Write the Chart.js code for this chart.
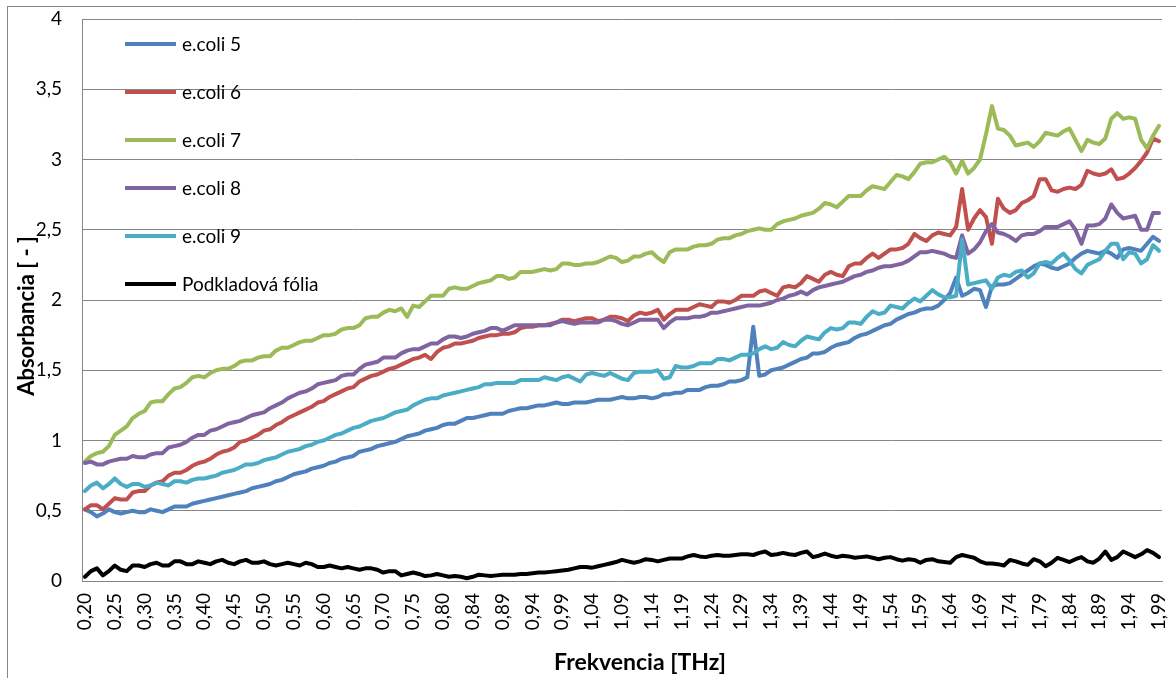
<!DOCTYPE html>
<html><head><meta charset="utf-8">
<script src="https://cdn.jsdelivr.net/npm/chart.js@4"></script>
<style>html,body{margin:0;padding:0;background:#fff;}#wrap{width:1176px;height:678px;}</style>
</head><body><div id="wrap"><canvas id="c" width="1176" height="678"></canvas></div>
<script>
const tickLabels = ['0,20','0,25','0,30','0,35','0,40','0,45','0,50','0,55','0,60','0,65','0,70','0,75','0,80','0,84','0,89','0,94','0,99','1,04','1,09','1,14','1,19','1,24','1,29','1,34','1,39','1,44','1,49','1,54','1,59','1,64','1,69','1,74','1,79','1,84','1,89','1,94','1,99'];

const ecoli5 = [0.51,0.49,0.46,0.48,0.51,0.49,0.48,0.49,0.50,0.49,
 0.49,0.51,0.50,0.49,0.51,0.53,0.53,0.53,0.55,0.56,
 0.57,0.58,0.59,0.60,0.61,0.62,0.63,0.64,0.66,0.67,
 0.68,0.69,0.71,0.72,0.74,0.76,0.77,0.78,0.80,0.81,
 0.82,0.84,0.85,0.87,0.88,0.89,0.92,0.93,0.94,0.96,
 0.97,0.98,0.99,1.01,1.03,1.04,1.05,1.07,1.08,1.09,
 1.11,1.12,1.12,1.14,1.16,1.16,1.17,1.18,1.19,1.19,
 1.19,1.21,1.22,1.23,1.23,1.24,1.25,1.25,1.26,1.27,
 1.26,1.26,1.27,1.27,1.27,1.28,1.29,1.29,1.29,1.30,
 1.31,1.30,1.30,1.31,1.31,1.30,1.31,1.33,1.33,1.34,
 1.34,1.36,1.36,1.36,1.38,1.39,1.39,1.40,1.42,1.42,
 1.43,1.45,1.81,1.46,1.47,1.50,1.51,1.52,1.54,1.56,
 1.58,1.59,1.62,1.62,1.63,1.66,1.68,1.69,1.70,1.73,
 1.75,1.76,1.78,1.80,1.82,1.83,1.86,1.88,1.90,1.91,
 1.93,1.94,1.94,1.96,2.00,2.05,2.16,2.03,2.05,2.08,
 2.07,1.95,2.10,2.11,2.11,2.12,2.15,2.18,2.21,2.24,
 2.26,2.25,2.23,2.22,2.24,2.26,2.30,2.33,2.35,2.34,
 2.33,2.35,2.33,2.30,2.36,2.37,2.36,2.35,2.40,2.45,
 2.42];

const ecoli6 = [0.51,0.54,0.54,0.51,0.55,0.59,0.58,0.58,0.63,0.64,
 0.64,0.68,0.70,0.71,0.75,0.77,0.77,0.79,0.82,0.84,
 0.85,0.87,0.90,0.92,0.93,0.95,0.99,1.00,1.02,1.04,
 1.07,1.08,1.11,1.13,1.16,1.18,1.20,1.22,1.24,1.27,
 1.28,1.31,1.33,1.35,1.37,1.38,1.42,1.44,1.46,1.47,
 1.49,1.51,1.52,1.54,1.56,1.58,1.59,1.61,1.58,1.63,
 1.66,1.67,1.69,1.69,1.70,1.71,1.73,1.74,1.75,1.75,
 1.76,1.76,1.77,1.80,1.81,1.81,1.82,1.82,1.83,1.84,
 1.86,1.86,1.85,1.86,1.87,1.87,1.85,1.86,1.88,1.88,
 1.87,1.85,1.89,1.91,1.90,1.91,1.93,1.86,1.90,1.93,
 1.93,1.93,1.95,1.97,1.96,1.95,1.99,1.99,1.98,2.00,
 2.03,2.03,2.03,2.06,2.07,2.05,2.03,2.09,2.10,2.09,
 2.12,2.17,2.15,2.13,2.18,2.20,2.18,2.17,2.24,2.26,
 2.26,2.30,2.33,2.30,2.33,2.36,2.36,2.37,2.40,2.47,
 2.44,2.42,2.46,2.48,2.47,2.46,2.52,2.79,2.50,2.58,
 2.64,2.59,2.40,2.72,2.65,2.62,2.64,2.69,2.71,2.74,
 2.86,2.86,2.78,2.77,2.79,2.80,2.79,2.82,2.92,2.90,
 2.89,2.90,2.93,2.86,2.87,2.90,2.94,2.99,3.05,3.15,
 3.13];

const ecoli7 = [0.85,0.89,0.91,0.92,0.96,1.04,1.07,1.10,1.16,1.19,
 1.21,1.27,1.28,1.28,1.33,1.37,1.38,1.41,1.45,1.46,
 1.45,1.48,1.50,1.51,1.51,1.53,1.56,1.57,1.57,1.59,
 1.60,1.60,1.64,1.66,1.66,1.68,1.70,1.71,1.71,1.73,
 1.75,1.75,1.76,1.79,1.80,1.80,1.82,1.87,1.88,1.88,
 1.91,1.93,1.92,1.94,1.88,1.96,1.95,1.99,2.03,2.03,
 2.03,2.08,2.09,2.08,2.08,2.10,2.12,2.13,2.14,2.17,
 2.17,2.15,2.16,2.20,2.20,2.20,2.21,2.22,2.21,2.22,
 2.26,2.26,2.25,2.25,2.26,2.26,2.27,2.29,2.31,2.30,
 2.27,2.28,2.31,2.31,2.33,2.34,2.30,2.27,2.34,2.36,
 2.36,2.36,2.38,2.39,2.39,2.40,2.43,2.44,2.44,2.46,
 2.47,2.49,2.50,2.51,2.50,2.50,2.54,2.56,2.57,2.58,
 2.60,2.61,2.62,2.65,2.69,2.68,2.66,2.70,2.74,2.74,
 2.74,2.78,2.81,2.80,2.79,2.84,2.89,2.88,2.86,2.91,
 2.97,2.98,2.98,3.00,3.02,2.98,2.90,2.99,2.90,2.94,
 3.00,3.18,3.38,3.22,3.21,3.17,3.10,3.11,3.12,3.09,
 3.13,3.19,3.18,3.17,3.20,3.22,3.14,3.06,3.14,3.12,
 3.11,3.15,3.29,3.33,3.29,3.30,3.29,3.14,3.08,3.17,
 3.24];

const ecoli8 = [0.84,0.85,0.83,0.83,0.85,0.86,0.87,0.87,0.89,0.88,
 0.88,0.90,0.91,0.91,0.95,0.96,0.97,0.99,1.02,1.04,
 1.04,1.07,1.08,1.10,1.12,1.13,1.14,1.16,1.18,1.19,
 1.20,1.23,1.25,1.27,1.30,1.32,1.34,1.35,1.37,1.40,
 1.41,1.42,1.43,1.46,1.47,1.47,1.51,1.54,1.55,1.56,
 1.59,1.59,1.59,1.62,1.64,1.65,1.65,1.67,1.69,1.69,
 1.72,1.74,1.74,1.73,1.74,1.76,1.77,1.78,1.80,1.80,
 1.78,1.80,1.82,1.82,1.82,1.82,1.82,1.82,1.82,1.84,
 1.85,1.84,1.83,1.84,1.84,1.84,1.84,1.86,1.86,1.85,
 1.83,1.82,1.84,1.86,1.86,1.86,1.86,1.80,1.84,1.87,
 1.87,1.87,1.88,1.88,1.89,1.91,1.91,1.92,1.93,1.94,
 1.95,1.96,1.96,1.96,1.97,1.98,2.00,2.01,2.03,2.04,
 2.06,2.04,2.07,2.09,2.10,2.11,2.12,2.13,2.15,2.17,
 2.18,2.20,2.21,2.23,2.24,2.24,2.25,2.26,2.28,2.31,
 2.34,2.34,2.35,2.34,2.33,2.31,2.30,2.46,2.33,2.36,
 2.41,2.49,2.54,2.48,2.47,2.45,2.42,2.46,2.47,2.47,
 2.49,2.52,2.52,2.52,2.54,2.56,2.50,2.40,2.53,2.53,
 2.54,2.58,2.68,2.62,2.58,2.59,2.60,2.50,2.50,2.62,
 2.62];

const ecoli9 = [0.64,0.68,0.70,0.66,0.69,0.73,0.69,0.67,0.69,0.69,
 0.67,0.68,0.70,0.69,0.68,0.71,0.71,0.70,0.72,0.73,
 0.73,0.74,0.75,0.77,0.78,0.79,0.81,0.83,0.83,0.84,
 0.86,0.87,0.88,0.90,0.92,0.93,0.94,0.96,0.97,0.99,
 1.00,1.02,1.04,1.05,1.07,1.09,1.10,1.12,1.14,1.15,
 1.16,1.18,1.20,1.21,1.22,1.25,1.27,1.29,1.30,1.30,
 1.32,1.33,1.34,1.35,1.36,1.37,1.38,1.40,1.40,1.41,
 1.41,1.41,1.41,1.43,1.43,1.43,1.43,1.45,1.44,1.43,
 1.45,1.46,1.44,1.42,1.47,1.48,1.47,1.46,1.48,1.46,
 1.44,1.43,1.48,1.49,1.49,1.49,1.50,1.44,1.45,1.53,
 1.52,1.52,1.53,1.55,1.55,1.55,1.58,1.58,1.57,1.59,
 1.61,1.61,1.62,1.65,1.67,1.65,1.66,1.70,1.68,1.67,
 1.71,1.74,1.73,1.72,1.77,1.80,1.79,1.80,1.84,1.84,
 1.83,1.88,1.92,1.90,1.91,1.96,1.95,1.94,1.98,2.01,
 1.99,2.03,2.07,2.04,2.02,2.02,2.03,2.43,2.11,2.12,
 2.13,2.14,2.08,2.16,2.18,2.17,2.20,2.21,2.16,2.19,
 2.26,2.27,2.26,2.30,2.33,2.28,2.22,2.19,2.25,2.27,
 2.29,2.35,2.40,2.40,2.29,2.34,2.33,2.26,2.29,2.39,
 2.35];

const podkladovaFolia = [0.03,0.07,0.09,0.04,0.07,0.11,0.08,0.07,0.11,0.11,
 0.10,0.12,0.13,0.11,0.11,0.14,0.14,0.12,0.12,0.14,
 0.13,0.12,0.14,0.15,0.13,0.12,0.14,0.15,0.13,0.13,
 0.14,0.12,0.11,0.12,0.13,0.12,0.11,0.13,0.12,0.10,
 0.10,0.11,0.10,0.09,0.10,0.09,0.08,0.09,0.09,0.08,
 0.06,0.07,0.07,0.04,0.05,0.06,0.05,0.035,0.04,0.05,
 0.04,0.03,0.035,0.03,0.02,0.03,0.045,0.04,0.035,0.04,
 0.045,0.045,0.045,0.05,0.05,0.055,0.06,0.06,0.065,0.07,
 0.075,0.08,0.09,0.10,0.10,0.095,0.105,0.115,0.125,0.135,
 0.15,0.14,0.13,0.14,0.155,0.15,0.14,0.15,0.16,0.16,
 0.16,0.175,0.185,0.175,0.17,0.18,0.185,0.18,0.18,0.185,
 0.19,0.19,0.185,0.20,0.21,0.185,0.19,0.20,0.19,0.185,
 0.20,0.21,0.17,0.18,0.195,0.18,0.17,0.18,0.175,0.165,
 0.17,0.175,0.165,0.155,0.165,0.17,0.155,0.145,0.155,0.15,
 0.13,0.15,0.155,0.14,0.135,0.13,0.17,0.185,0.175,0.165,
 0.14,0.125,0.125,0.12,0.11,0.15,0.14,0.125,0.115,0.155,
 0.14,0.105,0.13,0.165,0.15,0.135,0.155,0.17,0.14,0.13,
 0.16,0.21,0.15,0.17,0.21,0.19,0.17,0.19,0.22,0.20,
 0.17];

const seriesNames = ['e.coli 5','e.coli 6','e.coli 7','e.coli 8','e.coli 9','Podkladová fólia'];
const seriesValues = [ecoli5, ecoli6, ecoli7, ecoli8, ecoli9, podkladovaFolia];
const seriesColors = ['#4F81BD','#C0504D','#9BBB59','#8064A2','#4BACC6','#000000'];
const xTitle = 'Frekvencia [THz]';
const yTitle = 'Absorbancia [ - ]';

const categories = ecoli5.map((_, i) => (i % 5 === 0 ? tickLabels[i / 5] : ''));
const FONT = 'Lato';

const framePlugin = {
  id: 'frame',
  beforeDraw(chart) {
    const ctx = chart.ctx;
    ctx.save();
    ctx.fillStyle = '#ffffff';
    ctx.fillRect(0, 0, chart.width, chart.height);
    ctx.strokeStyle = '#868686';
    ctx.lineWidth = 1;
    ctx.strokeRect(7.5, 6.5, chart.width + 20, chart.height + 20);
    ctx.restore();
  },
  afterDraw(chart) {
    const ctx = chart.ctx;
    const area = chart.chartArea;
    // axis titles
    ctx.save();
    ctx.fillStyle = '#000';
    ctx.textAlign = 'center';
    ctx.textBaseline = 'middle';
    ctx.font = 'bold 23px ' + FONT;
    ctx.fillText(xTitle, (area.left + area.right) / 2 + 18, chart.height - 15);
    ctx.translate(27, area.top + (area.bottom - area.top) / 2 + 16);
    ctx.rotate(-Math.PI / 2);
    ctx.font = 'bold 22px ' + FONT;
    ctx.fillText(yTitle, 0, 0);
    ctx.restore();
    // legend
    ctx.save();
    const lx = area.left + 43, ly = area.top + 25, step = 48;
    chart.data.datasets.forEach((ds, i) => {
      const y = ly + i * step;
      ctx.strokeStyle = ds.borderColor;
      ctx.lineWidth = 4;
      ctx.lineCap = 'butt';
      ctx.beginPath();
      ctx.moveTo(lx, y);
      ctx.lineTo(lx + 51, y);
      ctx.stroke();
      ctx.fillStyle = '#000';
      ctx.font = '19px ' + FONT;
      ctx.textAlign = 'left';
      ctx.textBaseline = 'middle';
      ctx.fillText(ds.label, lx + 57, y + 1);
    });
    ctx.restore();
  }
};

new Chart(document.getElementById('c'), {
  type: 'line',
  data: {
    labels: categories,
    datasets: seriesNames.map((name, i) => ({
      label: name,
      data: seriesValues[i],
      borderColor: seriesColors[i],
      backgroundColor: seriesColors[i],
      order: seriesNames.length - 1 - i
    }))
  },
  options: {
    responsive: false,
    animation: false,
    devicePixelRatio: 1,
    layout: { padding: { left: 0, top: 19, right: 14, bottom: 0 } },
    plugins: { legend: { display: false }, tooltip: { enabled: false } },
    elements: {
      point: { radius: 0, hoverRadius: 0 },
      line: { tension: 0, borderWidth: 4, borderJoinStyle: 'round', borderCapStyle: 'round' }
    },
    scales: {
      x: {
        type: 'category',
        offset: true,
        grid: { display: false, drawTicks: false },
        border: { display: true, color: '#868686', width: 1 },
        ticks: { autoSkip: false, maxRotation: 90, minRotation: 90, padding: 12, color: '#000', font: { family: FONT, size: 19 } },
        title: { display: false },
        afterFit: s => { s.height = 97; s.paddingLeft = 0; s.paddingRight = 0; }
      },
      y: {
        min: 0, max: 4,
        ticks: { stepSize: 0.5, padding: 20, color: '#000', font: { family: FONT, size: 19 },
          callback: v => String(v).replace('.', ',') },
        grid: { color: '#868686', lineWidth: 1, drawTicks: false },
        border: { display: true, color: '#868686', width: 1 },
        afterFit: s => { s.width = 82; s.paddingTop = 0; s.paddingBottom = 0; }
      }
    }
  },
  plugins: [framePlugin]
});
</script>
</body></html>
